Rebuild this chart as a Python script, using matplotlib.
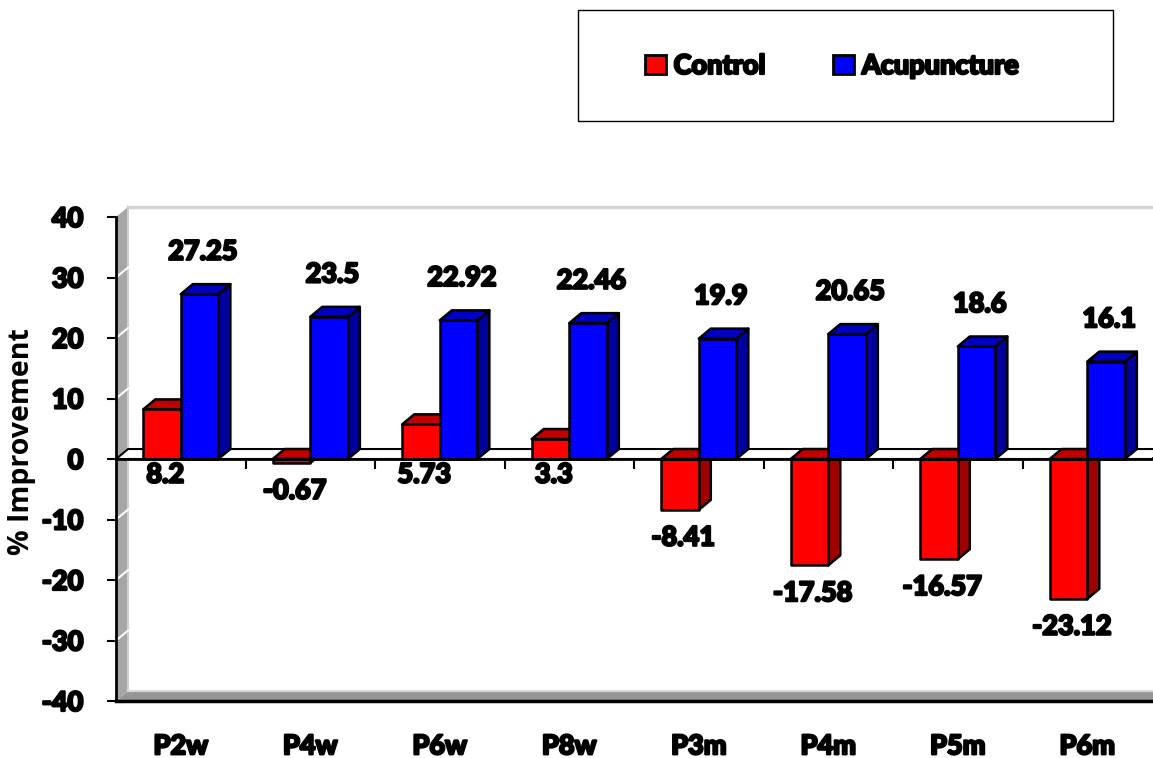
import numpy as np
import matplotlib
matplotlib.use("Agg")
import matplotlib.pyplot as plt
import matplotlib.patheffects as pe
from matplotlib.patches import Polygon, Rectangle

plt.rcParams["axes.unicode_minus"] = False

# ------------------------------------------------------------------
# Data
# ------------------------------------------------------------------
periods = ["P2w", "P4w", "P6w", "P8w", "P3m", "P4m", "P5m", "P6m"]
control = [8.2, -0.67, 5.73, 3.3, -8.41, -17.58, -16.57, -23.12]
acupuncture = [27.25, 23.5, 22.92, 22.46, 19.9, 20.65, 18.6, 16.1]
control_labels = ["8.2", "-0.67", "5.73", "3.3", "-8.41", "-17.58", "-16.57", "-23.12"]
acu_labels = ["27.25", "23.5", "22.92", "22.46", "19.9", "20.65", "18.6", "16.1"]
yticks = [-40, -30, -20, -10, 0, 10, 20, 30, 40]

# ------------------------------------------------------------------
# Style
# ------------------------------------------------------------------
FONT = "Lato"
HEAVY = [pe.withStroke(linewidth=1.6, foreground="black")]
W = 0.29          # bar width (fraction of a category)
DX = 0.093        # depth offset along x (data units)
DY = 1.65         # depth offset along y (data units)
series = [
    (control, "#FF0000", "#C00000", "#A00000", "Control"),
    (acupuncture, "#0000FF", "#0000C0", "#00009C", "Acupuncture"),
]

fig = plt.figure(figsize=(11.53, 7.58), dpi=100)
ax = fig.add_axes([116 / 1153, 57 / 758, 1036 / 1153, 484 / 758])
n = len(periods)
x = np.arange(n)
ax.set_xlim(-0.5, n - 0.5)
ax.set_ylim(-40, 40)
for s in ax.spines.values():
    s.set_visible(False)

x0, x1 = -0.5, n - 0.5

# back wall top edge
ax.plot([x0 + DX, x1 + DX], [40 + DY, 40 + DY], color="#d4d4d4", lw=2.5,
        clip_on=False, zorder=1)
# left side wall
ax.add_patch(Polygon([(x0, 40), (x0 + DX, 40 + DY), (x0 + DX, -40 + DY), (x0, -40)],
                     closed=True, facecolor="#a6a6a6", edgecolor="none",
                     clip_on=False, zorder=2))
ax.plot([x0 + DX, x0 + DX], [40 + DY, -40 + DY], color="#cfcfcf", lw=1.5,
        clip_on=False, zorder=2)
for t in yticks[1:-1]:
    ax.plot([x0, x0 + DX], [t, t + DY], color="white", lw=1.5, clip_on=False, zorder=2)
# floor
ax.add_patch(Polygon([(x0, -40), (x0 + DX, -40 + DY), (x1 + DX, -40 + DY), (x1, -40)],
                     closed=True, facecolor="#969696", edgecolor="none",
                     clip_on=False, zorder=2))
ax.plot([x0 + DX, x1 + DX], [-40 + DY, -40 + DY], color="#d9d9d9", lw=1.5,
        clip_on=False, zorder=2)
# zero plane
ax.add_patch(Polygon([(x0, 0), (x0 + DX, DY), (x1 + DX, DY), (x1, 0)],
                     closed=True, facecolor="white", edgecolor="black", lw=1.5,
                     clip_on=False, zorder=3))


def bar3d(xl, v, front, top_c, side_c):
    xr = xl + W
    lo, hi = min(v, 0), max(v, 0)
    kw = dict(edgecolor="black", lw=1.8, joinstyle="round", zorder=4, clip_on=False)
    ax.add_patch(Polygon([(xr, lo), (xr + DX, lo + DY), (xr + DX, hi + DY), (xr, hi)],
                         facecolor=side_c, **kw))
    ax.add_patch(Polygon([(xl, hi), (xl + DX, hi + DY), (xr + DX, hi + DY), (xr, hi)],
                         facecolor=top_c, **kw))
    ax.add_patch(Rectangle((xl, lo), W, hi - lo, facecolor=front, **kw))


for i in range(n):
    bar3d(x[i] - W, control[i], *series[0][1:4])
    bar3d(x[i], acupuncture[i], *series[1][1:4])

# axes lines
ax.plot([x0, x0], [-40, 40], color="black", lw=2, clip_on=False, zorder=5)
ax.plot([x0, x1 + DX], [-40, -40], color="black", lw=2.5, clip_on=False, zorder=5)
ax.plot([x0, x1], [0, 0], color="black", lw=2, clip_on=False, zorder=5)
ax.vlines(x[:-1] + 0.5, -1.7, 0, color="black", lw=1.5, zorder=5)

# ticks
ax.set_yticks(yticks)
ax.tick_params(axis="y", length=6.5, width=1.5, pad=17, direction="out")
ax.set_xticks(x)
ax.set_xticklabels(periods)
ax.tick_params(axis="x", length=0, pad=24)
for lab in ax.get_xticklabels() + ax.get_yticklabels():
    lab.set_fontfamily(FONT)
    lab.set_fontweight("black")
    lab.set_fontsize(19.5)
    lab.set_path_effects(HEAVY)

# value labels
for i in range(n):
    ax.text(x[i] + 0.17, acupuncture[i] + 7, acu_labels[i], ha="center", va="center",
            fontsize=19.5, fontfamily=FONT, fontweight="black", zorder=6,
            path_effects=HEAVY)
    cy = -2.6 if control[i] >= 0 else control[i] - 4.6
    ax.text(x[i] - 0.12, cy, control_labels[i], ha="center", va="center",
            fontsize=19.5, fontfamily=FONT, fontweight="black", zorder=6,
            path_effects=HEAVY)

fig.text(22 / 1153, 1 - 442 / 758, "% Improvement", rotation=90, ha="center",
         va="center", fontsize=20.5, fontweight="bold", fontfamily="Open Sans")

# legend
fig.patches.append(Rectangle((578 / 1153, 1 - 121 / 758), 535 / 1153, 111 / 758,
                             transform=fig.transFigure, facecolor="white",
                             edgecolor="black", lw=1))
handles = [Rectangle((0, 0), 1, 1, facecolor=s[1], edgecolor="black", lw=2) for s in series]
leg = fig.legend(handles, [s[4] for s in series], loc="center",
                 bbox_to_anchor=(832 / 1153, 1 - 66 / 758), ncol=2, frameon=False,
                 handlelength=0.75, handleheight=0.75, handletextpad=0.3,
                 columnspacing=2.5, prop={"family": FONT, "weight": "black", "size": 19.5})
for t in leg.get_texts():
    t.set_path_effects(HEAVY)

fig.savefig("out.png", dpi=100)
